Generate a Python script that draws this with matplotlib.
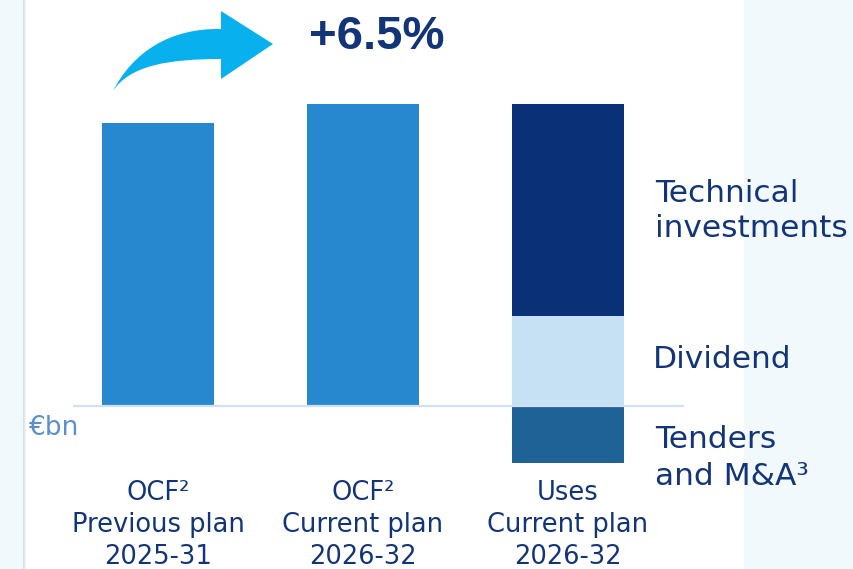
import matplotlib
matplotlib.use("Agg")
import matplotlib.pyplot as plt
from matplotlib.patches import Rectangle, PathPatch
from matplotlib.path import Path

# Operating cash flow vs. uses (€bn)
categories = ["OCF²\nPrevious plan\n2025-31", "OCF²\nCurrent plan\n2026-32", "Uses\nCurrent plan\n2026-32"]
ocf_values = [26.0, 27.7]          # OCF previous plan, OCF current plan
uses_technical = 19.4              # technical investments
uses_dividend = 8.3                # dividend
uses_tenders = -5.2                # tenders and M&A (shown below the axis)
growth_label = "+6.5%"
unit_label = "€bn"
use_labels = ["Technical\ninvestments", "Dividend", "Tenders\nand M&A³"]

W, H = 854, 569
NAVY = "#12357a"
C_OCF = "#2787cf"
C_TECH = "#0a3177"
C_DIV = "#c6e1f4"
C_TEND = "#1f6296"
BG = "#f2f9fd"

fig = plt.figure(figsize=(W / 100, H / 100), dpi=100, facecolor=BG)


def fx(px):
    return px / W


def fy(py):
    return 1 - py / H


# white content panel with a soft left edge
fig.patches.append(Rectangle((fx(25), 0), fx(744) - fx(25), 1, transform=fig.transFigure,
                             facecolor="white", edgecolor="none", zorder=-10))
for i, c in enumerate(["#d5dfe4", "#e1e9ed", "#edf2f4"]):
    fig.patches.append(Rectangle((fx(23 + i), 0), fx(1), 1, transform=fig.transFigure,
                                 facecolor=c, edgecolor="none", zorder=-9))

ax = fig.add_axes([0, 0, 1, 1])
ax.set_facecolor("none")
ax.set_xlim(-0.771, 3.395)
ax.set_ylim(-14.95, 37.25)
ax.axis("off")

bw = 0.546
x = [0, 1, 2]
ax.bar(x[:2], ocf_values, width=bw, color=C_OCF, zorder=2)
ax.bar(x[2], uses_technical, bottom=uses_dividend, width=bw, color=C_TECH, zorder=2)
ax.bar(x[2], uses_dividend, width=bw, color=C_DIV, zorder=2)
ax.bar(x[2], uses_tenders, width=bw, color=C_TEND, zorder=2)

ax.axhline(0, xmin=fx(74), xmax=fx(683), color="#d0e1f7", lw=1.6, zorder=3)

font = "DejaVu Sans"
for xi, lab in zip(x, categories):
    ax.text(xi, -6.75, lab, ha="center", va="top", fontsize=18.5, color=NAVY,
            family=font, linespacing=1.3)

ax.text(fx(29), fy(428), unit_label, transform=fig.transFigure, ha="left", va="center",
        fontsize=19, color="#5b8fd0", family=font)

ax.text(fx(655), fy(211), use_labels[0], transform=fig.transFigure, ha="left", va="center",
        fontsize=22.5, color=NAVY, family=font, linespacing=1.3)
ax.text(fx(653), fy(360), use_labels[1], transform=fig.transFigure, ha="left", va="center",
        fontsize=22.5, color=NAVY, family=font)
ax.text(fx(655), fy(458), use_labels[2], transform=fig.transFigure, ha="left", va="center",
        fontsize=22.5, color=NAVY, family=font, linespacing=1.35)

ax.text(fx(377), fy(37), growth_label, transform=fig.transFigure, ha="center", va="center",
        fontsize=34, fontweight="bold", color=NAVY, family="Liberation Sans")

# curved growth arrow
pts = [(113, 91), (133, 52), (170, 28), (221, 29),
       (221, 11), (273, 44), (221, 79), (221, 59),
       (170, 59), (130, 65), (113, 91), (113, 91)]
codes = [Path.MOVETO, Path.CURVE4, Path.CURVE4, Path.CURVE4,
         Path.LINETO, Path.LINETO, Path.LINETO, Path.LINETO,
         Path.CURVE4, Path.CURVE4, Path.CURVE4, Path.CLOSEPOLY]
arrow = Path([(fx(px), fy(py)) for px, py in pts], codes)
fig.patches.append(PathPatch(arrow, transform=fig.transFigure, facecolor="#08b0ee",
                             edgecolor="none", zorder=5))

fig.savefig("out.png", dpi=100, facecolor=BG)
